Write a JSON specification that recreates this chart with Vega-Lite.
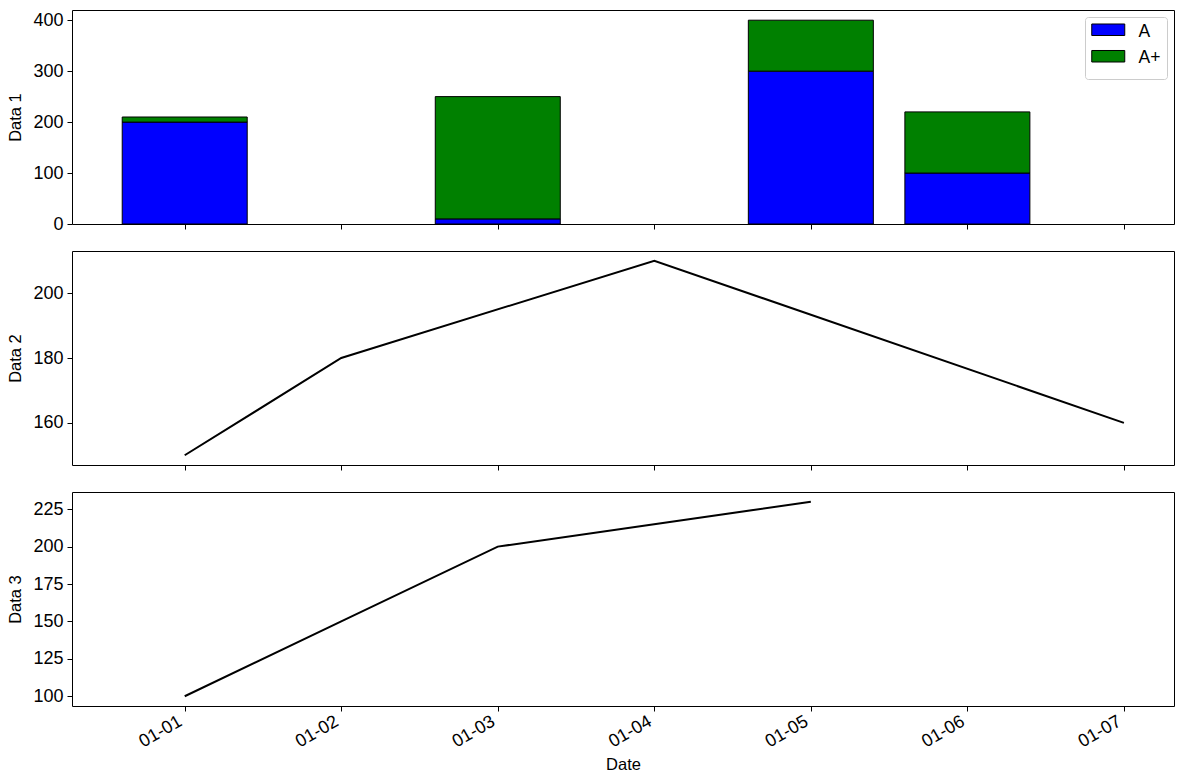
{
  "$schema": "https://vega.github.io/schema/vega-lite/v6.json",
  "background": "white",
  "padding": {"left": 6, "top": 9, "right": 9, "bottom": 5},
  "spacing": 27,
  "bounds": "flush",
  "datasets": {
    "grades": [
      {"date": "2024-01-01", "grade": "A", "count": 200},
      {"date": "2024-01-01", "grade": "A+", "count": 10},
      {"date": "2024-01-03", "grade": "A", "count": 10},
      {"date": "2024-01-03", "grade": "A+", "count": 240},
      {"date": "2024-01-05", "grade": "A", "count": 300},
      {"date": "2024-01-05", "grade": "A+", "count": 100},
      {"date": "2024-01-06", "grade": "A", "count": 100},
      {"date": "2024-01-06", "grade": "A+", "count": 120}
    ],
    "data2": [
      {"date": "2024-01-01", "value": 150},
      {"date": "2024-01-02", "value": 180},
      {"date": "2024-01-04", "value": 210},
      {"date": "2024-01-07", "value": 160}
    ],
    "data3": [
      {"date": "2024-01-01", "value": 100},
      {"date": "2024-01-02", "value": 150},
      {"date": "2024-01-03", "value": 200},
      {"date": "2024-01-05", "value": 230}
    ]
  },
  "vconcat": [
    {
      "data": {"name": "grades"},
      "width": 1102,
      "height": 214,
      "mark": {"type": "bar", "size": 125, "stroke": "black", "strokeWidth": 1},
      "encoding": {
        "x": {
          "field": "date",
          "type": "temporal",
          "scale": {
            "type": "utc",
            "padding": 0,
            "domain": [
              {"year": 2023, "month": 12, "date": 31, "hours": 6, "minutes": 43, "seconds": 12, "utc": true},
              {"year": 2024, "month": 1, "date": 7, "hours": 7, "minutes": 40, "seconds": 48, "utc": true}
            ]
          },
          "axis": {
            "title": null,
            "labels": false,
            "values": [
              {"year": 2024, "month": 1, "date": 1, "utc": true},
              {"year": 2024, "month": 1, "date": 2, "utc": true},
              {"year": 2024, "month": 1, "date": 3, "utc": true},
              {"year": 2024, "month": 1, "date": 4, "utc": true},
              {"year": 2024, "month": 1, "date": 5, "utc": true},
              {"year": 2024, "month": 1, "date": 6, "utc": true},
              {"year": 2024, "month": 1, "date": 7, "utc": true}
            ]
          }
        },
        "y": {
          "field": "count",
          "type": "quantitative",
          "stack": "zero",
          "scale": {"domain": [0, 420], "nice": false, "zero": true},
          "axis": {"title": "Data 1", "values": [0, 100, 200, 300, 400]}
        },
        "color": {
          "field": "grade",
          "type": "nominal",
          "scale": {"domain": ["A", "A+"], "range": ["#0000ff", "#008000"]},
          "legend": {"title": " ", "titleOrient": "bottom", "titleFontSize": 5, "titlePadding": 1, "orient": "top-right"}
        },
        "order": {"field": "grade", "sort": "ascending"}
      }
    },
    {
      "data": {"name": "data2"},
      "width": 1102,
      "height": 214,
      "mark": {"type": "line", "color": "black", "strokeWidth": 2},
      "encoding": {
        "x": {
          "field": "date",
          "type": "temporal",
          "scale": {
            "type": "utc",
            "domain": [
              {"year": 2023, "month": 12, "date": 31, "hours": 6, "minutes": 43, "seconds": 12, "utc": true},
              {"year": 2024, "month": 1, "date": 7, "hours": 7, "minutes": 40, "seconds": 48, "utc": true}
            ]
          },
          "axis": {
            "title": null,
            "labels": false,
            "values": [
              {"year": 2024, "month": 1, "date": 1, "utc": true},
              {"year": 2024, "month": 1, "date": 2, "utc": true},
              {"year": 2024, "month": 1, "date": 3, "utc": true},
              {"year": 2024, "month": 1, "date": 4, "utc": true},
              {"year": 2024, "month": 1, "date": 5, "utc": true},
              {"year": 2024, "month": 1, "date": 6, "utc": true},
              {"year": 2024, "month": 1, "date": 7, "utc": true}
            ]
          }
        },
        "y": {
          "field": "value",
          "type": "quantitative",
          "scale": {"domain": [147, 213], "nice": false, "zero": false},
          "axis": {"title": "Data 2", "values": [160, 180, 200]}
        }
      }
    },
    {
      "data": {"name": "data3"},
      "width": 1102,
      "height": 214,
      "mark": {"type": "line", "color": "black", "strokeWidth": 2},
      "encoding": {
        "x": {
          "field": "date",
          "type": "temporal",
          "scale": {
            "type": "utc",
            "domain": [
              {"year": 2023, "month": 12, "date": 31, "hours": 6, "minutes": 43, "seconds": 12, "utc": true},
              {"year": 2024, "month": 1, "date": 7, "hours": 7, "minutes": 40, "seconds": 48, "utc": true}
            ]
          },
          "axis": {
            "title": "Date",
            "format": "%m-%d",
            "labelAngle": -30,
            "labelAlign": "right",
            "labelBaseline": "top",
            "labelOffset": -9,
            "labelPadding": 1,
            "titlePadding": 6,
            "values": [
              {"year": 2024, "month": 1, "date": 1, "utc": true},
              {"year": 2024, "month": 1, "date": 2, "utc": true},
              {"year": 2024, "month": 1, "date": 3, "utc": true},
              {"year": 2024, "month": 1, "date": 4, "utc": true},
              {"year": 2024, "month": 1, "date": 5, "utc": true},
              {"year": 2024, "month": 1, "date": 6, "utc": true},
              {"year": 2024, "month": 1, "date": 7, "utc": true}
            ]
          }
        },
        "y": {
          "field": "value",
          "type": "quantitative",
          "scale": {"domain": [93.5, 236.5], "nice": false, "zero": false},
          "axis": {"title": "Data 3", "values": [100, 125, 150, 175, 200, 225]}
        }
      }
    }
  ],
  "config": {
    "font": "Liberation Sans",
    "view": {"stroke": "black", "strokeWidth": 1},
    "axis": {
      "labelFont": "Liberation Sans",
      "titleFont": "Liberation Sans",
      "labelFontSize": 18,
      "titleFontSize": 16.5,
      "titleFontWeight": "normal",
      "labelColor": "black",
      "titleColor": "black",
      "tickColor": "black",
      "tickSize": 5,
      "labelPadding": 4,
      "domain": false,
      "grid": false
    },
    "axisY": {"titlePadding": 9.5},
    "legend": {
      "offset": 7,
      "padding": 6,
      "strokeColor": "#cccccc",
      "cornerRadius": 3,
      "fillColor": "rgba(255,255,255,0.8)",
      "labelFont": "Liberation Sans",
      "labelFontSize": 17.5,
      "labelColor": "black",
      "symbolType": "M-1,-0.97L3.125,-0.97L3.125,0.47L-1,0.47Z",
      "symbolSize": 256,
      "symbolStrokeColor": "black",
      "symbolStrokeWidth": 1,
      "symbolOpacity": 1,
      "labelOffset": 30,
      "rowPadding": 6.5
    }
  }
}
